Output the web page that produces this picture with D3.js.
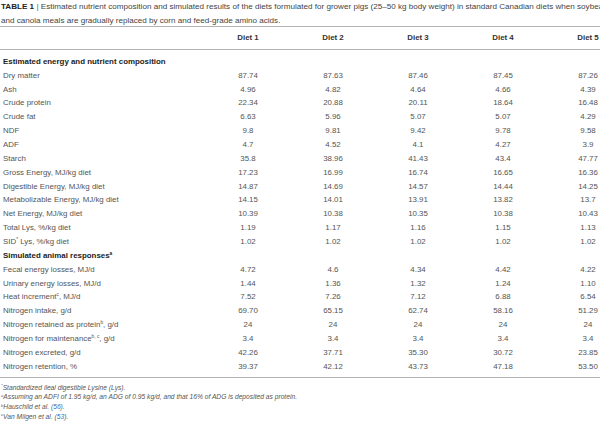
<!DOCTYPE html>
<html><head><meta charset="utf-8">
<script src="https://cdn.jsdelivr.net/npm/d3@7"></script>
<style>
body{margin:0;background:#fff}
text{font-family:"Liberation Sans",Arial,sans-serif}
</style></head><body>
<svg id="chart" width="600" height="425"></svg>
<script>
// table data
var diets = ["Diet 1", "Diet 2", "Diet 3", "Diet 4", "Diet 5"];

// [label, superscript, values] ; values null = section header
var rows = [
  ["Estimated energy and nutrient composition", "", null],
  ["Dry matter", "", ["87.74", "87.63", "87.46", "87.45", "87.26"]],
  ["Ash", "", ["4.96", "4.82", "4.64", "4.66", "4.39"]],
  ["Crude protein", "", ["22.34", "20.88", "20.11", "18.64", "16.48"]],
  ["Crude fat", "", ["6.63", "5.96", "5.07", "5.07", "4.29"]],
  ["NDF", "", ["9.8", "9.81", "9.42", "9.78", "9.58"]],
  ["ADF", "", ["4.7", "4.52", "4.1", "4.27", "3.9"]],
  ["Starch", "", ["35.8", "38.96", "41.43", "43.4", "47.77"]],
  ["Gross Energy, MJ/kg diet", "", ["17.23", "16.99", "16.74", "16.65", "16.36"]],
  ["Digestible Energy, MJ/kg diet", "", ["14.87", "14.69", "14.57", "14.44", "14.25"]],
  ["Metabolizable Energy, MJ/kg diet", "", ["14.15", "14.01", "13.91", "13.82", "13.7"]],
  ["Net Energy, MJ/kg diet", "", ["10.39", "10.38", "10.35", "10.38", "10.43"]],
  ["Total Lys, %/kg diet", "", ["1.19", "1.17", "1.16", "1.15", "1.13"]],
  ["SID|*| Lys, %/kg diet", "", ["1.02", "1.02", "1.02", "1.02", "1.02"]],
  ["Simulated animal responses", "a", null],
  ["Fecal energy losses, MJ/d", "", ["4.72", "4.6", "4.34", "4.42", "4.22"]],
  ["Urinary energy losses, MJ/d", "", ["1.44", "1.36", "1.32", "1.24", "1.10"]],
  ["Heat increment|c|, MJ/d", "", ["7.52", "7.26", "7.12", "6.88", "6.54"]],
  ["Nitrogen intake, g/d", "", ["69.70", "65.15", "62.74", "58.16", "51.29"]],
  ["Nitrogen retained as protein|b|, g/d", "", ["24", "24", "24", "24", "24"]],
  ["Nitrogen for maintenance|b, c|, g/d", "", ["3.4", "3.4", "3.4", "3.4", "3.4"]],
  ["Nitrogen excreted, g/d", "", ["42.26", "37.71", "35.30", "30.72", "23.85"]],
  ["Nitrogen retention, %", "", ["39.37", "42.12", "43.73", "47.18", "53.50"]]
];

var footnotes = [
  ["*", "Standardized ileal digestible Lysine (Lys)."],
  ["a", "Assuming an ADFI of 1.95 kg/d, an ADG of 0.95 kg/d, and that 16% of ADG is deposited as protein."],
  ["b", "Hauschild et al. (56)."],
  ["c", "Van Milgen et al. (53)."]
];

var title = ["Estimated nutrient composition and simulated results of the diets formulated for grower pigs (25–50 kg body weight) in standard Canadian diets when soybean",
             "and canola meals are gradually replaced by corn and feed-grade amino acids."];

var svg = d3.select("#chart");
var fs = 7.9;

var x = d3.scalePoint().domain(diets).range([248, 588]);
var y = d3.scaleLinear().domain([0, rows.length - 1]).range([61, 366]);

// title
var t = svg.append("text").attr("x", 1).attr("y", 9).attr("font-size", 8.1).attr("fill", "#444");
t.append("tspan").attr("font-weight", "bold").attr("fill", "#222").text("TABLE 1");
t.append("tspan").attr("fill", "#2a6ebb").text(" | ");
t.append("tspan").text(title[0]);
svg.append("text").attr("x", 1).attr("y", 23).attr("font-size", 8.1).attr("fill", "#444").text(title[1]);

// rules
[26.5, 49.5, 377.5].forEach(function(yy) {
  svg.append("line").attr("x1", 0).attr("x2", 600).attr("y1", yy).attr("y2", yy)
     .attr("stroke", "#aaa").attr("stroke-width", 0.9);
});

// header
svg.selectAll("text.head").data(diets).enter().append("text")
   .attr("class", "head").attr("text-anchor", "middle")
   .attr("x", d => x(d)).attr("y", 40)
   .attr("font-size", fs).attr("font-weight", "bold").attr("fill", "#333")
   .text(d => d);

// rows
function addLabel(g, label, sup, bold) {
  var txt = g.append("text").attr("x", 3).attr("font-size", fs)
             .attr("fill", bold ? "#222" : "#555").attr("font-weight", bold ? "bold" : "normal");
  label.split("|").forEach(function(part, i) {
    var ts = txt.append("tspan").text(part);
    if (i % 2 == 1) ts.attr("font-size", 4.8).attr("dy", -3);
    else if (i > 0) ts.attr("dy", 3);
  });
  if (sup) txt.append("tspan").attr("font-size", 4.8).attr("dy", -3).text(sup);
}

rows.forEach(function(r, i) {
  var g = svg.append("g").attr("transform", "translate(0," + (y(i) + 2.8) + ")");
  addLabel(g, r[0], r[1], r[2] == null);
  if (r[2]) {
    g.selectAll("text.val").data(r[2]).enter().append("text")
     .attr("class", "val").attr("text-anchor", "middle")
     .attr("x", (d, j) => x(diets[j])).attr("font-size", fs).attr("fill", "#555")
     .text(d => d);
  }
});

// footnotes
footnotes.forEach(function(f, i) {
  var txt = svg.append("text").attr("x", 1).attr("y", 389.5 + i * 9.8)
               .attr("font-size", 6.7).attr("font-style", "italic").attr("fill", "#555");
  txt.append("tspan").attr("font-size", 4.2).attr("dy", -2.5).text(f[0]);
  var m = f[1].match(/^(.*\()(\d+)(\)\.)$/);
  if (m) {
    txt.append("tspan").attr("dy", 2.5).text(m[1]);
    txt.append("tspan").attr("fill", "#2a6ebb").text(m[2]);
    txt.append("tspan").text(m[3]);
  } else {
    txt.append("tspan").attr("dy", 2.5).text(f[1]);
  }
});
</script>
</body></html>
